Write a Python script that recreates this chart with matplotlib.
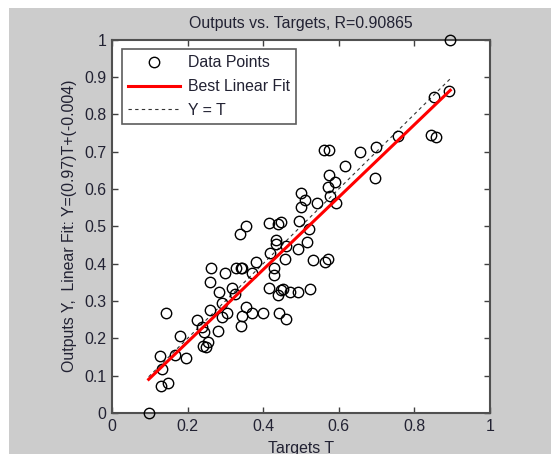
import matplotlib
matplotlib.use("Agg")
import matplotlib.pyplot as plt
from matplotlib.patches import Rectangle

plt.rcParams['font.family'] = ['Liberation Sans', 'DejaVu Sans']

# targets / outputs
targets = [0.097, 0.127, 0.132, 0.129, 0.147, 0.144, 0.166, 0.179, 0.197, 0.225,
           0.237, 0.243, 0.241, 0.248, 0.253, 0.258, 0.262, 0.260, 0.280, 0.284,
           0.290, 0.292, 0.299, 0.304, 0.318, 0.325, 0.329, 0.338, 0.355, 0.341,
           0.345, 0.341, 0.345, 0.355, 0.371, 0.371, 0.381, 0.399, 0.415, 0.417,
           0.415, 0.429, 0.429, 0.434, 0.434, 0.438, 0.448, 0.441, 0.438, 0.448,
           0.453, 0.457, 0.459, 0.461, 0.471, 0.491, 0.492, 0.494, 0.499, 0.499,
           0.511, 0.517, 0.522, 0.525, 0.531, 0.543, 0.561, 0.573, 0.564, 0.571,
           0.573, 0.571, 0.578, 0.591, 0.593, 0.617, 0.655, 0.698, 0.695, 0.757,
           0.845, 0.856, 0.853, 0.891, 0.895]
outputs = [0.000, 0.152, 0.118, 0.072, 0.081, 0.269, 0.156, 0.205, 0.147, 0.250,
           0.229, 0.216, 0.180, 0.176, 0.189, 0.276, 0.387, 0.351, 0.219, 0.324,
           0.256, 0.294, 0.374, 0.269, 0.336, 0.318, 0.387, 0.478, 0.500, 0.387,
           0.387, 0.234, 0.260, 0.283, 0.269, 0.376, 0.403, 0.268, 0.508, 0.429,
           0.336, 0.388, 0.369, 0.463, 0.453, 0.505, 0.511, 0.269, 0.316, 0.330,
           0.333, 0.413, 0.253, 0.447, 0.323, 0.324, 0.438, 0.513, 0.589, 0.552,
           0.570, 0.459, 0.493, 0.332, 0.410, 0.563, 0.705, 0.705, 0.404, 0.412,
           0.638, 0.604, 0.582, 0.618, 0.561, 0.660, 0.698, 0.712, 0.628, 0.742,
           0.745, 0.739, 0.845, 0.862, 1.000]

slope = 0.97
offset = -0.004
r_value = 0.90865

FS = 11.4
TXT = '#222233'

fig = plt.figure(figsize=(5.51, 4.54), dpi=100)
fig.patch.set_facecolor('white')
# grey MATLAB figure area (screenshot has a thin white border top/left)
fig.patches.append(Rectangle((9 / 551, 0), 1, 1 - 8 / 454, transform=fig.transFigure,
                             facecolor='#cccccc', edgecolor='none', zorder=-10))

ax = fig.add_axes([112 / 551, 41 / 454, 378 / 551, 373.5 / 454])
ax.set_facecolor('white')

tmin, tmax = min(targets), max(targets)
ax.plot(targets, outputs, 'o', mfc='none', mec='black', ms=7.5, mew=1.0,
        label='Data Points', clip_on=False, zorder=3)
ax.plot([tmin, tmax], [slope * tmin + offset, slope * tmax + offset], color='red',
        linewidth=2.2, label='Best Linear Fit', zorder=4)
ax.plot([tmin, tmax], [tmin, tmax], linestyle=(0, (3, 3)), color='#333333',
        linewidth=0.8, label='Y = T', zorder=2)

ax.set_xlim(0, 1)
ax.set_ylim(0, 1)
ax.set_xticks([0, 0.2, 0.4, 0.6, 0.8, 1])
ax.set_xticklabels(['0', '0.2', '0.4', '0.6', '0.8', '1'])
ax.set_yticks([i / 10 for i in range(11)])
ax.set_yticklabels(['0'] + ['0.%d' % i for i in range(1, 10)] + ['1'])
ax.tick_params(direction='in', top=True, right=True, length=4, width=1,
               color='#404040', labelsize=FS, labelcolor=TXT, pad=4)
for s in ax.spines.values():
    s.set_color('#505050')
    s.set_linewidth(1.5)

ax.set_title('Outputs vs. Targets, R=%.5f' % r_value, fontsize=FS, color=TXT, pad=8)
ax.set_xlabel('Targets T', fontsize=FS, color=TXT, labelpad=5)
ax.set_ylabel('Outputs Y,  Linear Fit: Y=(%.2g)T+(%.2g)' % (slope, offset),
              fontsize=FS, color=TXT, labelpad=5)

leg = ax.legend(loc='upper left', fontsize=FS, frameon=True, fancybox=False,
                borderaxespad=0.6, handlelength=3.3, handletextpad=0.5,
                borderpad=0.4, labelspacing=0.55)
leg.get_frame().set_edgecolor('#333333')
leg.get_frame().set_linewidth(1.2)
for t in leg.get_texts():
    t.set_color(TXT)

fig.savefig('out.png', dpi=100, facecolor=fig.get_facecolor())
